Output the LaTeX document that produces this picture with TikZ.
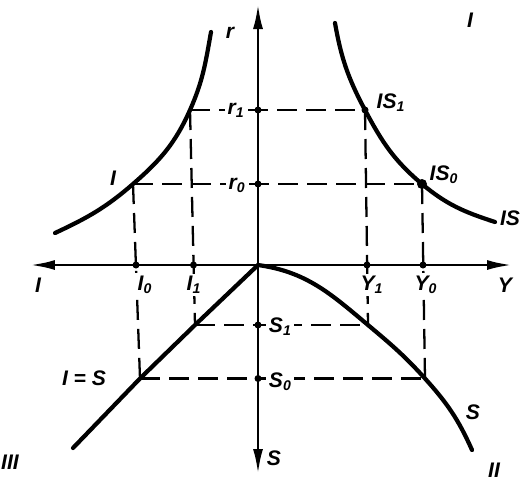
\documentclass[tikz,border=0pt]{standalone}
\usepackage{fontspec}
\setmainfont{Liberation Sans}
\usepackage{tikz}
\usetikzlibrary{arrows.meta}
\tikzstyle{axis}=[line width=1.6pt, {Latex[length=0.5cm, width=0.2cm]}-{Latex[length=0.5cm, width=0.2cm]}]
\tikzstyle{curve}=[line width=2.4pt, line cap=round, line join=round]
\tikzstyle{guide}=[line width=1.3pt, dash pattern=on 0.4cm off 0.18cm]
\tikzstyle{axisdot}=[circle, fill=black, inner sep=0pt, minimum size=0.14cm]
\tikzstyle{lbl}=[font=\fontsize{12}{14}\selectfont\bfseries\itshape, inner sep=0pt]
\tikzstyle{onlbl}=[lbl, fill=white, inner sep=1.5pt]

\begin{document}
\begin{tikzpicture}
    \useasboundingbox (-5.16,-4.3) rectangle (5.3,5.3);
    % axes
    \coordinate (O) at (0,0);
    \coordinate (rtop) at (0,5.22);
    \coordinate (sbot) at (0,-4.18);
    \coordinate (ileft) at (-4.56,0);
    \coordinate (yright) at (5.08,0);

    % corners of the guides
    \coordinate (ir1) at (-1.36,3.1);
    \coordinate (ir0) at (-2.5,1.62);
    \coordinate (isr1) at (2.14,3.1);
    \coordinate (isr0) at (3.28,1.62);
    \coordinate (is1) at (-1.26,-1.2);
    \coordinate (is0) at (-2.36,-2.27);
    \coordinate (ys1) at (2.2,-1.2);
    \coordinate (ys0) at (3.34,-2.27);

    % ends of the curves
    \coordinate (ilow) at (-4.06,0.64);
    \coordinate (itop) at (-0.94,4.66);
    \coordinate (istop) at (1.54,4.84);
    \coordinate (islow) at (4.74,0.86);
    \coordinate (send) at (4.28,-3.7);
    \coordinate (isend) at (-3.7,-3.66);

    % dashed guides
    \draw[guide] (ir1) -- (isr1);
    \draw[guide] (ir0) -- (isr0);
    \draw[guide] (is1) -- (ys1);
    \draw[guide] (is0) -- (ys0);
    \draw[guide] (ir1) -- (is1);
    \draw[guide] (ir0) -- (is0);
    \draw[guide] (isr1) -- (ys1);
    \draw[guide] (isr0) -- (ys0);

    \draw[axis] (sbot) -- (rtop);
    \draw[axis] (ileft) -- (yright);

    % curves
    \draw[curve] (ilow) to[out=25, in=221] (ir0) to[out=41, in=246] (ir1) to[out=66, in=260] (itop);
    \draw[curve] (istop) to[out=-80, in=118] (isr1) to[out=-62, in=140] (isr0) to[out=-40, in=162] (islow);
    \draw[curve] (O) to[out=-8, in=140] (ys1) to[out=-40, in=132] (ys0) to[out=-48, in=114] (send);
    \draw[curve] (O) -- (is1) -- (is0) -- (isend);

    % labels on the guides
    \node[onlbl] (r1lab) at (-0.44,3.1) {r\textsubscript{1}};
    \node[onlbl] (r0lab) at (-0.42,1.6) {r\textsubscript{0}};
    \node[onlbl, anchor=west] (s1lab) at (0.16,-1.24) {S\textsubscript{1}};
    \node[onlbl, anchor=west] (s0lab) at (0.16,-2.34) {S\textsubscript{0}};
    \node[onlbl] (i0lab) at (-2.26,-0.4) {I\textsubscript{0}};
    \node[onlbl] (i1lab) at (-1.28,-0.4) {I\textsubscript{1}};
    \node[onlbl] (y1lab) at (2.28,-0.4) {Y\textsubscript{1}};
    \node[onlbl] (y0lab) at (3.36,-0.4) {Y\textsubscript{0}};

    % points
    \node[axisdot] (r1) at (0,3.1) {};
    \node[axisdot] (r0) at (0,1.62) {};
    \node[axisdot] (i1) at (-1.29,0) {};
    \node[axisdot] (i0) at (-2.44,0) {};
    \node[axisdot] (y1) at (2.18,0) {};
    \node[axisdot] (y0) at (3.3,0) {};
    \node[axisdot] (s1) at (0,-1.2) {};
    \node[axisdot] (s0) at (0,-2.27) {};
    \node[axisdot] (is1dot) at (isr1) {};
    \node[axisdot, minimum size=0.2cm] (is0dot) at (isr0) {};

    % labels
    \node[lbl] (rlab) at (-0.56,4.64) {r};
    \node[lbl] (ilab) at (-2.9,1.74) {I};
    \node[lbl] (is1lab) at (2.66,3.24) {IS\textsubscript{1}};
    \node[lbl] (is0lab) at (3.72,1.8) {IS\textsubscript{0}};
    \node[lbl] (islab) at (5.04,0.94) {IS};
    \node[lbl] (q1) at (4.24,4.9) {I};
    \node[lbl] (iaxis) at (-4.4,-0.4) {I};
    \node[lbl] (yaxis) at (4.94,-0.4) {Y};
    \node[lbl] (eqlab) at (-3.48,-2.26) {I = S};
    \node[lbl] (slab) at (4.3,-2.94) {S};
    \node[lbl] (saxis) at (0.32,-3.86) {S};
    \node[lbl] (q3) at (-4.96,-3.94) {III};
    \node[lbl] (q2) at (4.72,-4.1) {II};
\end{tikzpicture}
\end{document}
